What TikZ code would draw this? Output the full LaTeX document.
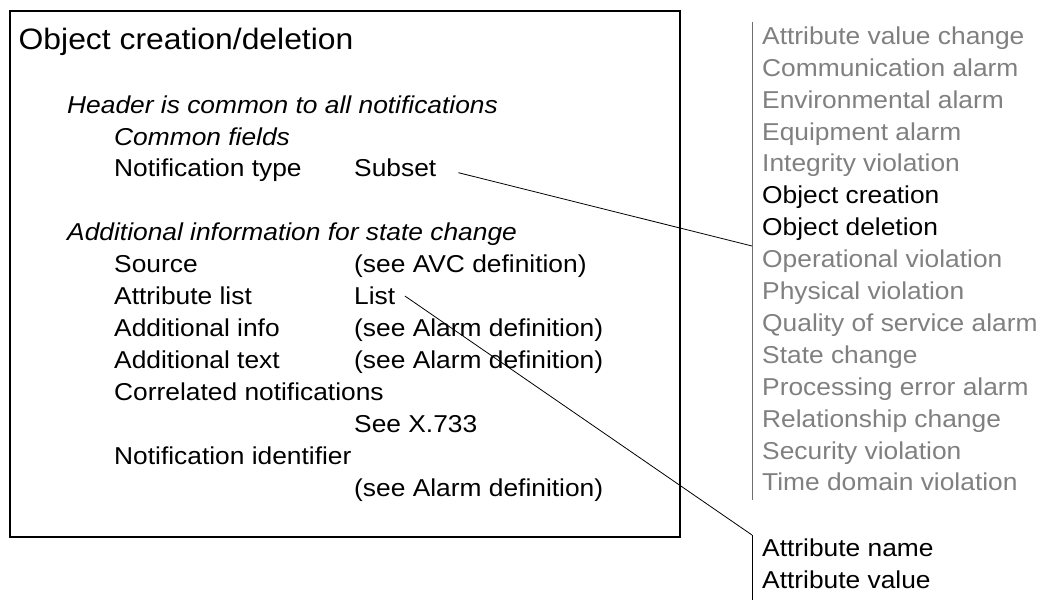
\documentclass[tikz,border=0pt]{standalone}
\usepackage{fontspec}
\setmainfont[FakeStretch=1.08]{Liberation Sans}
\usetikzlibrary{calc}
\definecolor{listgray}{HTML}{808080}
\definecolor{bargray}{HTML}{6E6E6E}

\begin{document}
\begin{tikzpicture}[x=1pt,y=-1pt,
  txt/.style={anchor=base west, inner sep=0pt, font=\fontsize{24.4}{30}\selectfont},
  ttl/.style={anchor=base west, inner sep=0pt, font=\fontsize{29.5}{35}\selectfont},
  itx/.style={txt, font=\fontsize{24.4}{30}\selectfont\itshape},
  opt/.style={txt, text=listgray},
  sel/.style={txt, text=black},
  frame/.style={draw=black, line width=2pt, inner sep=0pt, anchor=north west},
  link/.style={draw=black, line width=0.8pt},
  bar/.style={draw=bargray, line width=1pt}]

\useasboundingbox (0,0) rectangle (1044,600);

% notification panel
\node[frame, minimum width=670, minimum height=526] (panel) at (9,10) {};
\node[ttl] (title) at (18.5,49.3) {Object creation/deletion};

\node[itx] (hdr)    at (67,113.3) {Header is common to all notifications};
\node[itx] (common) at (114,145.1) {Common fields};
\node[txt] (ntype)  at (114,176.9) {Notification type};
\node[txt] (subset) at (354,176.9) {Subset};

\node[itx] (addinfo) at (67,240.7) {Additional information for state change};
\node[txt] (src)     at (114,272.65) {Source};
\node[txt] (srcv)    at (354,272.65) {(see AVC definition)};
\node[txt] (alist)   at (114,304.6) {Attribute list};
\node[txt] (list)    at (354,304.6) {List};
\node[txt] (ainfo)   at (114,336.55) {Additional info};
\node[txt] (ainfov)  at (354,336.55) {(see Alarm definition)};
\node[txt] (atext)   at (114,368.5) {Additional text};
\node[txt] (atextv)  at (354,368.5) {(see Alarm definition)};
\node[txt] (corr)    at (114,400.45) {Correlated notifications};
\node[txt] (corrv)   at (354,432.4) {See X.733};
\node[txt] (nid)     at (114,464.35) {Notification identifier};
\node[txt] (nidv)    at (354,496.3) {(see Alarm definition)};

% notification type choices
\coordinate (typeTop) at (752,22);
\coordinate (typeBot) at (752,500);
\draw[bar] (typeTop) -- (typeBot);
\foreach \lbl/\sty [count=\i from 0] in {
  Attribute value change/opt, Communication alarm/opt, Environmental alarm/opt,
  Equipment alarm/opt, Integrity violation/opt, Object creation/sel,
  Object deletion/sel, Operational violation/opt, Physical violation/opt,
  Quality of service alarm/opt, State change/opt, Processing error alarm/opt,
  Relationship change/opt, Security violation/opt, Time domain violation/opt}
  \node[\sty] (type\i) at (762,44.3+31.9*\i) {\lbl};

% attribute list contents
\coordinate (attrTop) at (752,535);
\coordinate (attrBot) at (752,600);
\draw[link] (attrTop) -- (attrBot);
\node[txt] (aname)  at (762,556.7) {Attribute name};
\node[txt] (avalue) at (762,588.3) {Attribute value};

% connectors
\coordinate (typeHit) at (752,246);
\coordinate (subsetTip) at ($(subset.base east)+(22,-4.2)$);
\coordinate (listTip) at ($(list.base east)+(9.5,-8.6)$);
\draw[link] (subsetTip) -- (typeHit);
\draw[link] (listTip) -- (attrTop);
\end{tikzpicture}
\end{document}
